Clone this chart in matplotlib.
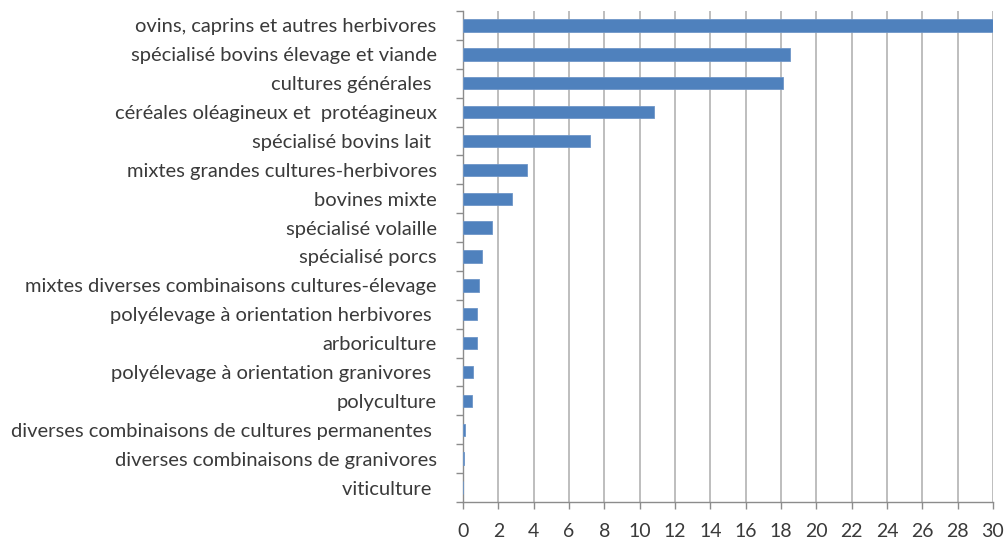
import matplotlib
matplotlib.use("Agg")
import matplotlib.pyplot as plt
import numpy as np

categories = [
    "ovins, caprins et autres herbivores",
    "spécialisé bovins élevage et viande",
    "cultures générales ",
    "céréales oléagineux et  protéagineux",
    "spécialisé bovins lait ",
    "mixtes grandes cultures-herbivores",
    "bovines mixte",
    "spécialisé volaille",
    "spécialisé porcs",
    "mixtes diverses combinaisons cultures-élevage",
    "polyélevage à orientation herbivores ",
    "arboriculture",
    "polyélevage à orientation granivores ",
    "polyculture",
    "diverses combinaisons de cultures permanentes ",
    "diverses combinaisons de granivores",
    "viticulture ",
]
values = [30.0, 18.5, 18.1, 10.8, 7.2, 3.6, 2.8, 1.62, 1.05, 0.91, 0.8, 0.8,
          0.55, 0.49, 0.13, 0.06, 0.0]
xticks = list(range(0, 31, 2))

plt.rcParams['font.family'] = ['Lato', 'DejaVu Sans']

fig = plt.figure(figsize=(10.07, 5.39), dpi=100)
ax = fig.add_axes([463/1007, 1 - 502/539, (993-463)/1007, (502-11)/539])

n = len(categories)
y = np.arange(n)[::-1]
ax.barh(y, values, height=0.43, color="#4F81BD", edgecolor="#6E96C8", linewidth=0.6, zorder=3)

ax.set_xlim(0, 30)
ax.set_ylim(-0.5, n - 0.5)
ax.set_xticks(xticks)
ax.set_xticklabels([str(t) for t in xticks], fontsize=14, color="#3a3a3a")
ax.set_yticks(y)
ax.set_yticklabels(categories, fontsize=14.5, color="#3a3a3a")
ax.set_yticks(np.arange(-0.5, n, 1.0), minor=True)
ax.tick_params(axis="y", which="major", length=0, pad=19)
ax.tick_params(axis="y", which="minor", length=5, color="#8c8c8c", width=1)
ax.tick_params(axis="x", which="major", length=5, color="#8c8c8c", width=1, pad=10)

ax.grid(axis="x", color="#b3b3b3", linewidth=1.2, zorder=0)
ax.set_axisbelow(True)
for s in ["top", "right"]:
    ax.spines[s].set_visible(False)
for s in ["left", "bottom"]:
    ax.spines[s].set_color("#8c8c8c")
    ax.spines[s].set_linewidth(1)

fig.savefig("out.png", dpi=100)
